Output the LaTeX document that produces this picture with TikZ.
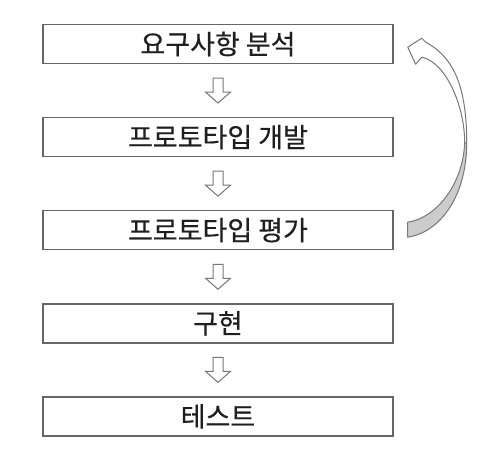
\documentclass[tikz,border=0pt]{standalone}
\usepackage{fontspec}
\newfontfamily\kofont[FakeBold=0.4]{Noto Sans CJK KR}
\usepackage{tikz}
\usetikzlibrary{calc}

\definecolor{boxline}{HTML}{666666}
\definecolor{arrowline}{HTML}{777777}
\definecolor{backfill}{HTML}{CCCCCC}

\begin{document}
\begin{tikzpicture}[x=1pt,y=-1pt,
    stagebox/.style={draw=boxline,line width=1.4pt,minimum width=350pt,minimum height=39pt,
        inner sep=0pt,font=\kofont\fontsize{27}{30}\selectfont,text=black!88},
    blockarrow/.style={draw=arrowline,line width=1pt,fill=white,line join=miter}]
    \useasboundingbox (0,0) rectangle (492,457);
    % Stages
    \foreach \txt [count=\i] in {요구사항 분석,프로토타입 개발,프로토타입 평가,구현,테스트}
        \node[stagebox] (s\i) at (218,{44+93.1*(\i-1)}) {\txt};
    % Arrows between stages
    \foreach \i [evaluate=\i as \j using int(\i+1)] in {1,...,4}
        \draw[blockarrow] ($(s\i.south)!0.5!(s\j.north)$) ++(-5,-12.5) -- ++(10,0) -- ++(0,14)
            -- ++(7.5,0) -- ++(-12.5,11) -- ++(-12.5,-11) -- ++(7.5,0) -- cycle;
    % Loop back from evaluation to requirements
    \begin{scope}[shift={([xshift=14pt]s3.east)},draw=arrowline,line width=1pt,line join=round]
        \filldraw[fill=backfill] (0,7) .. controls (33,2) and (59,-35) .. (59,-87)
            -- (57,-87) .. controls (55,-45) and (28,-12) .. (0,-8) -- cycle;
        \filldraw[fill=white] (57,-87) .. controls (57,-125) and (38,-168) .. (14,-173)
            -- (8,-166) -- (0,-183) -- (14,-192) -- (18,-188)
            .. controls (48,-172) and (59,-140) .. (59,-87) -- cycle;
    \end{scope}
\end{tikzpicture}
\end{document}
